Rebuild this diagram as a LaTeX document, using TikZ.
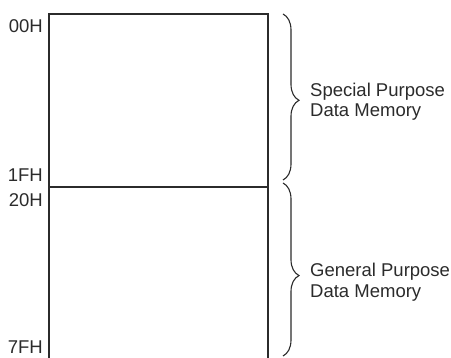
\documentclass[tikz,border=0pt]{standalone}
\usepackage{fontspec}
\setmainfont{Liberation Sans}
\usetikzlibrary{decorations.pathreplacing}
\definecolor{ink}{HTML}{2B2B2B}
\tikzset{
  memline/.style={draw=ink, line width=1.3pt},
  addr/.style={anchor=base east, inner sep=0pt, text=ink,
    font=\fontsize{18.5}{21}\selectfont},
  region/.style={anchor=base west, inner sep=0pt, text=ink, align=left,
    font=\fontsize{18.5}{20.5}\selectfont},
  regionbrace/.style={draw=ink, line width=1.1pt,
    decorate, decoration={brace, amplitude=16pt, aspect=0.52}}
}
\begin{document}
\begin{tikzpicture}[x=1pt, y=1pt]
\useasboundingbox (0,0) rectangle (451,358);
% memory block outline (continues below the lower edge)
\coordinate (tl) at (49,344);
\coordinate (tr) at (268,344);
\coordinate (bl) at (49,-3);
\coordinate (br) at (268,-3);
\coordinate (ml) at (49,171);
\coordinate (mr) at (268,171);
\draw[memline] (bl) -- (tl) -- (tr) -- (br);
\draw[memline] (ml) -- (mr);
% addresses
\node[addr] (a00) at (43,325) {00H};
\node[addr] (a1f) at (43,176) {1FH};
\node[addr] (a20) at (43,151) {20H};
\node[addr] (a7f) at (43,4.5) {7FH};
% braces
\coordinate (b1s) at (283,344);
\coordinate (b1e) at (283,178);
\coordinate (b2s) at (283,175);
\coordinate (b2e) at (283,2);
\draw[regionbrace] (b1s) -- (b1e);
\draw[regionbrace, decoration={aspect=0.535}] (b2s) -- (b2e);
% region labels
\node[region] (sp1) at (310,261) {Special Purpose};
\node[region] (sp2) at (310,241) {Data Memory};
\node[region] (gp1) at (310,81) {General Purpose};
\node[region] (gp2) at (310,60) {Data Memory};
\end{tikzpicture}
\end{document}
